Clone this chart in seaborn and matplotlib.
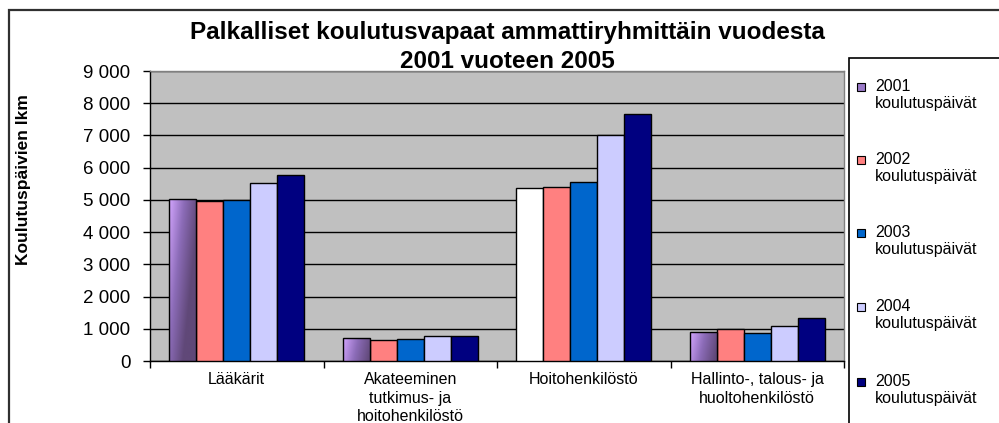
import numpy as np
import pandas as pd
import matplotlib
matplotlib.use("Agg")
import matplotlib.pyplot as plt
import matplotlib.ticker as mticker
from matplotlib.patches import Rectangle
from matplotlib.colors import LinearSegmentedColormap
import seaborn as sns

# ---- data ----
categories = ["Lääkärit", "Akateeminen\ntutkimus- ja\nhoitohenkilöstö",
              "Hoitohenkilöstö", "Hallinto-, talous- ja\nhuoltohenkilöstö"]
series = ["2001\nkoulutuspäivät", "2002\nkoulutuspäivät", "2003\nkoulutuspäivät",
          "2004\nkoulutuspäivät", "2005\nkoulutuspäivät"]
v2001 = [5030, 720, 5360, 910]
v2002 = [4980, 640, 5410, 1000]
v2003 = [4990, 670, 5550, 870]
v2004 = [5520, 765, 7000, 1095]
v2005 = [5770, 765, 7650, 1330]
yticks = [0, 1000, 2000, 3000, 4000, 5000, 6000, 7000, 8000, 9000]
title = "Palkalliset koulutusvapaat ammattiryhmittäin vuodesta\n2001 vuoteen 2005"
ylabel = "Koulutuspäivien lkm"

colors = ["#9A7AC8", "#FF8080", "#0066CC", "#CCCCFF", "#000080"]

values = [v2001, v2002, v2003, v2004, v2005]
rows = []
for s, vals in zip(series, values):
    for c, v in zip(categories, vals):
        rows.append({"cat": c, "series": s, "value": v})
df = pd.DataFrame(rows)

sns.set_theme(style="white")
plt.rcParams["font.family"] = ["Liberation Sans", "DejaVu Sans"]

W, H = 999, 423
fig = plt.figure(figsize=(W / 100, H / 100), dpi=100)
fig.patch.set_facecolor("white")

def fx(px):
    return px / W

def fy(py):
    return 1 - py / H

ax = fig.add_axes([fx(150), fy(361), fx(844) - fx(150), fy(71) - fy(361)])
ax.set_facecolor("#C0C0C0")

sns.barplot(data=df, x="cat", y="value", hue="series", order=categories,
            hue_order=series, palette=dict(zip(series, colors)),
            width=0.78, gap=0, edgecolor="black", linewidth=1.0,
            saturation=1, legend=False, ax=ax, zorder=3)

# gradient for the 2001 series (except the white Hoitohenkilöstö bar)
grad_cmap = LinearSegmentedColormap.from_list("g", ["#D4A6FF", "#8C6CB8", "#604878"])
gx = np.linspace(0, 1, 64)
gy = np.linspace(0, 1, 128)
GX, GY = np.meshgrid(gx, gy)
for i, bar in enumerate(ax.containers[0]):
    if categories[i] == "Hoitohenkilöstö":
        bar.set_facecolor("white")
        continue
    x0, y0 = bar.get_x(), bar.get_y()
    w, h = bar.get_width(), bar.get_height()
    T = np.clip(0.9 * GX + 0.55 * (1 - GY) * min(1, h / 2500), 0, 1)
    img = ax.imshow(T, cmap=grad_cmap, vmin=0, vmax=1, origin="lower",
                    extent=[x0, x0 + w, y0, y0 + h], aspect="auto",
                    interpolation="bilinear", zorder=3.1)
    img.set_clip_path(bar)
    bar.set_facecolor("none")
    bar.set_zorder(3.2)

ax.set_xlim(-0.5, 3.5)
ax.set_ylim(0, 9000)
ax.set_yticks(yticks)
ax.yaxis.set_major_formatter(mticker.FuncFormatter(
    lambda v, p: f"{int(v):,}".replace(",", " ")))
ax.yaxis.grid(True, color="black", linewidth=1.0, zorder=1)
ax.set_axisbelow(True)
ax.set_xlabel("")
ax.set_ylabel("")

ax.tick_params(axis="y", which="major", length=5, width=1, color="black",
               direction="out", pad=9, labelsize=13.5, labelcolor="black", left=True)
ax.tick_params(axis="x", which="major", length=0, pad=8, labelsize=11.5,
               labelcolor="black")
ax.set_xticks(range(len(categories)))
ax.set_xticklabels(categories, linespacing=1.3)
ax.set_xticks([-0.5, 0.5, 1.5, 2.5, 3.5], minor=True)
ax.tick_params(axis="x", which="minor", length=5, width=1, color="black",
               direction="out", bottom=True)

for side in ["left", "bottom"]:
    ax.spines[side].set_color("black")
    ax.spines[side].set_linewidth(1.0)
for side in ["top", "right"]:
    ax.spines[side].set_color("#808080")
    ax.spines[side].set_linewidth(1.0)

# title
fig.text(fx(507), fy(47), title, ha="center", va="center", fontsize=17.5,
         fontweight="bold", color="black", linespacing=1.3)

# y label
fig.text(fx(24), fy(180), ylabel, rotation=90, ha="center", va="center",
         fontsize=12.5, fontweight="bold", color="black")

# outer chart border
fig.add_artist(Rectangle((fx(9), fy(440)), fx(1020) - fx(9), fy(10) - fy(440),
                         transform=fig.transFigure, facecolor="none",
                         edgecolor="#303030", linewidth=1.6, clip_on=False))

# legend box
fig.add_artist(Rectangle((fx(849), fy(440)), fx(1020) - fx(849), fy(58) - fy(440),
                         transform=fig.transFigure, facecolor="white",
                         edgecolor="black", linewidth=1.2, clip_on=False))
leg_y = [87, 160, 233, 307, 382]
for s, c, ly in zip(series, colors, leg_y):
    fig.add_artist(Rectangle((fx(857), fy(ly + 4)), fx(8), 8 / H,
                             transform=fig.transFigure, facecolor=c,
                             edgecolor="black", linewidth=0.8))
    fig.text(fx(875), fy(ly - 8), s, ha="left", va="top", fontsize=11.5,
             color="black", linespacing=1.2)

fig.savefig("out.png", dpi=100)
